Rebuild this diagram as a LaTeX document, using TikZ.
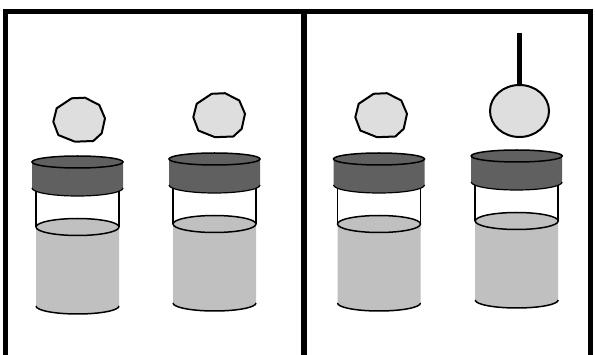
\documentclass[tikz,border=0pt]{standalone}
\usetikzlibrary{calc}
\definecolor{lidgrey}{HTML}{606060}
\definecolor{liquidgrey}{HTML}{C0C0C0}
\definecolor{pillgrey}{HTML}{DEDEDE}
\tikzset{
  frameline/.style={line width=5.5pt, line cap=butt, line join=miter},
  outline/.style={line width=1.5pt},
  pilledge/.style={line width=2pt, line join=round, fill=pillgrey},
}
% jar: #1 = centre x, #2 = top of the lid
\newcommand{\jarshape}[2]{%
  \pgfmathsetmacro{\lt}{#2+6}%
  \pgfmathsetmacro{\lb}{#2+32}%
  \pgfmathsetmacro{\qt}{#2+71}%
  \pgfmathsetmacro{\qb}{#2+150}%
  % glass walls above the liquid
  \draw[outline] (#1-41.5,\lb) -- (#1-41.5,\qt) (#1+41.5,\lb) -- (#1+41.5,\qt);
  % liquid body
  \fill[liquidgrey] (#1-41.5,\qt) -- (#1-41.5,\qb)
     arc[start angle=180, end angle=360, x radius=41.5pt, y radius=8pt]
     -- (#1+41.5,\qt) -- cycle;
  \draw[outline] (#1-41.5,\qb)
     arc[start angle=180, end angle=360, x radius=41.5pt, y radius=8pt];
  \draw[outline, fill=liquidgrey] (#1,\qt) ellipse [x radius=41.5pt, y radius=8.5pt];
  % lid
  \fill[lidgrey] (#1-45.5,\lt) -- (#1-45.5,\lb)
     arc[start angle=180, end angle=360, x radius=45.5pt, y radius=8pt]
     -- (#1+45.5,\lt) -- cycle;
  \draw[line width=1.2pt] (#1-45.5,\lb)
     arc[start angle=180, end angle=360, x radius=45.5pt, y radius=8pt];
  \draw[outline, fill=lidgrey] (#1,\lt) ellipse [x radius=45.5pt, y radius=6pt];
}
% tablet outline centred on (#1,#2)
\newcommand{\tablet}[2]{%
  \draw[pilledge] (#1-7.3,#2-21.7) -- (#1+6,#2-22.3) -- (#1+20.3,#2-15)
     -- (#1+26,#2-1.7) -- (#1+22.7,#2+13.3) -- (#1+14.3,#2+21)
     -- (#1-4,#2+21.7) -- (#1-20.7,#2+15) -- (#1-25.7,#2+1.7)
     -- (#1-22.3,#2-11.7) -- cycle;
}
\begin{document}
\begin{tikzpicture}[x=1pt, y=-1pt]
  \useasboundingbox (0,0) rectangle (595,355);
  \clip (0,0) rectangle (595,355);
  \fill[white] (0,0) rectangle (595,355);

  % panel frame
  \draw[frameline] (5.5,365) -- (5.5,11.5) -- (590.5,11.5) -- (590.5,365);
  \draw[frameline] (304,11.5) -- (304,365);

  % jars
  \jarshape{77.5}{156}
  \jarshape{214.5}{153}
  \jarshape{379}{153}
  \jarshape{516.7}{150}

  % tablets
  \tablet{79}{120}
  \tablet{219}{115.5}
  \tablet{381}{115.5}

  % tablet held on a rod
  \draw[line width=5pt] (519.5,33) -- (519.5,86);
  \draw[line width=2pt, fill=pillgrey] (519.5,111) ellipse [x radius=29.5pt, y radius=26pt];
\end{tikzpicture}
\end{document}
